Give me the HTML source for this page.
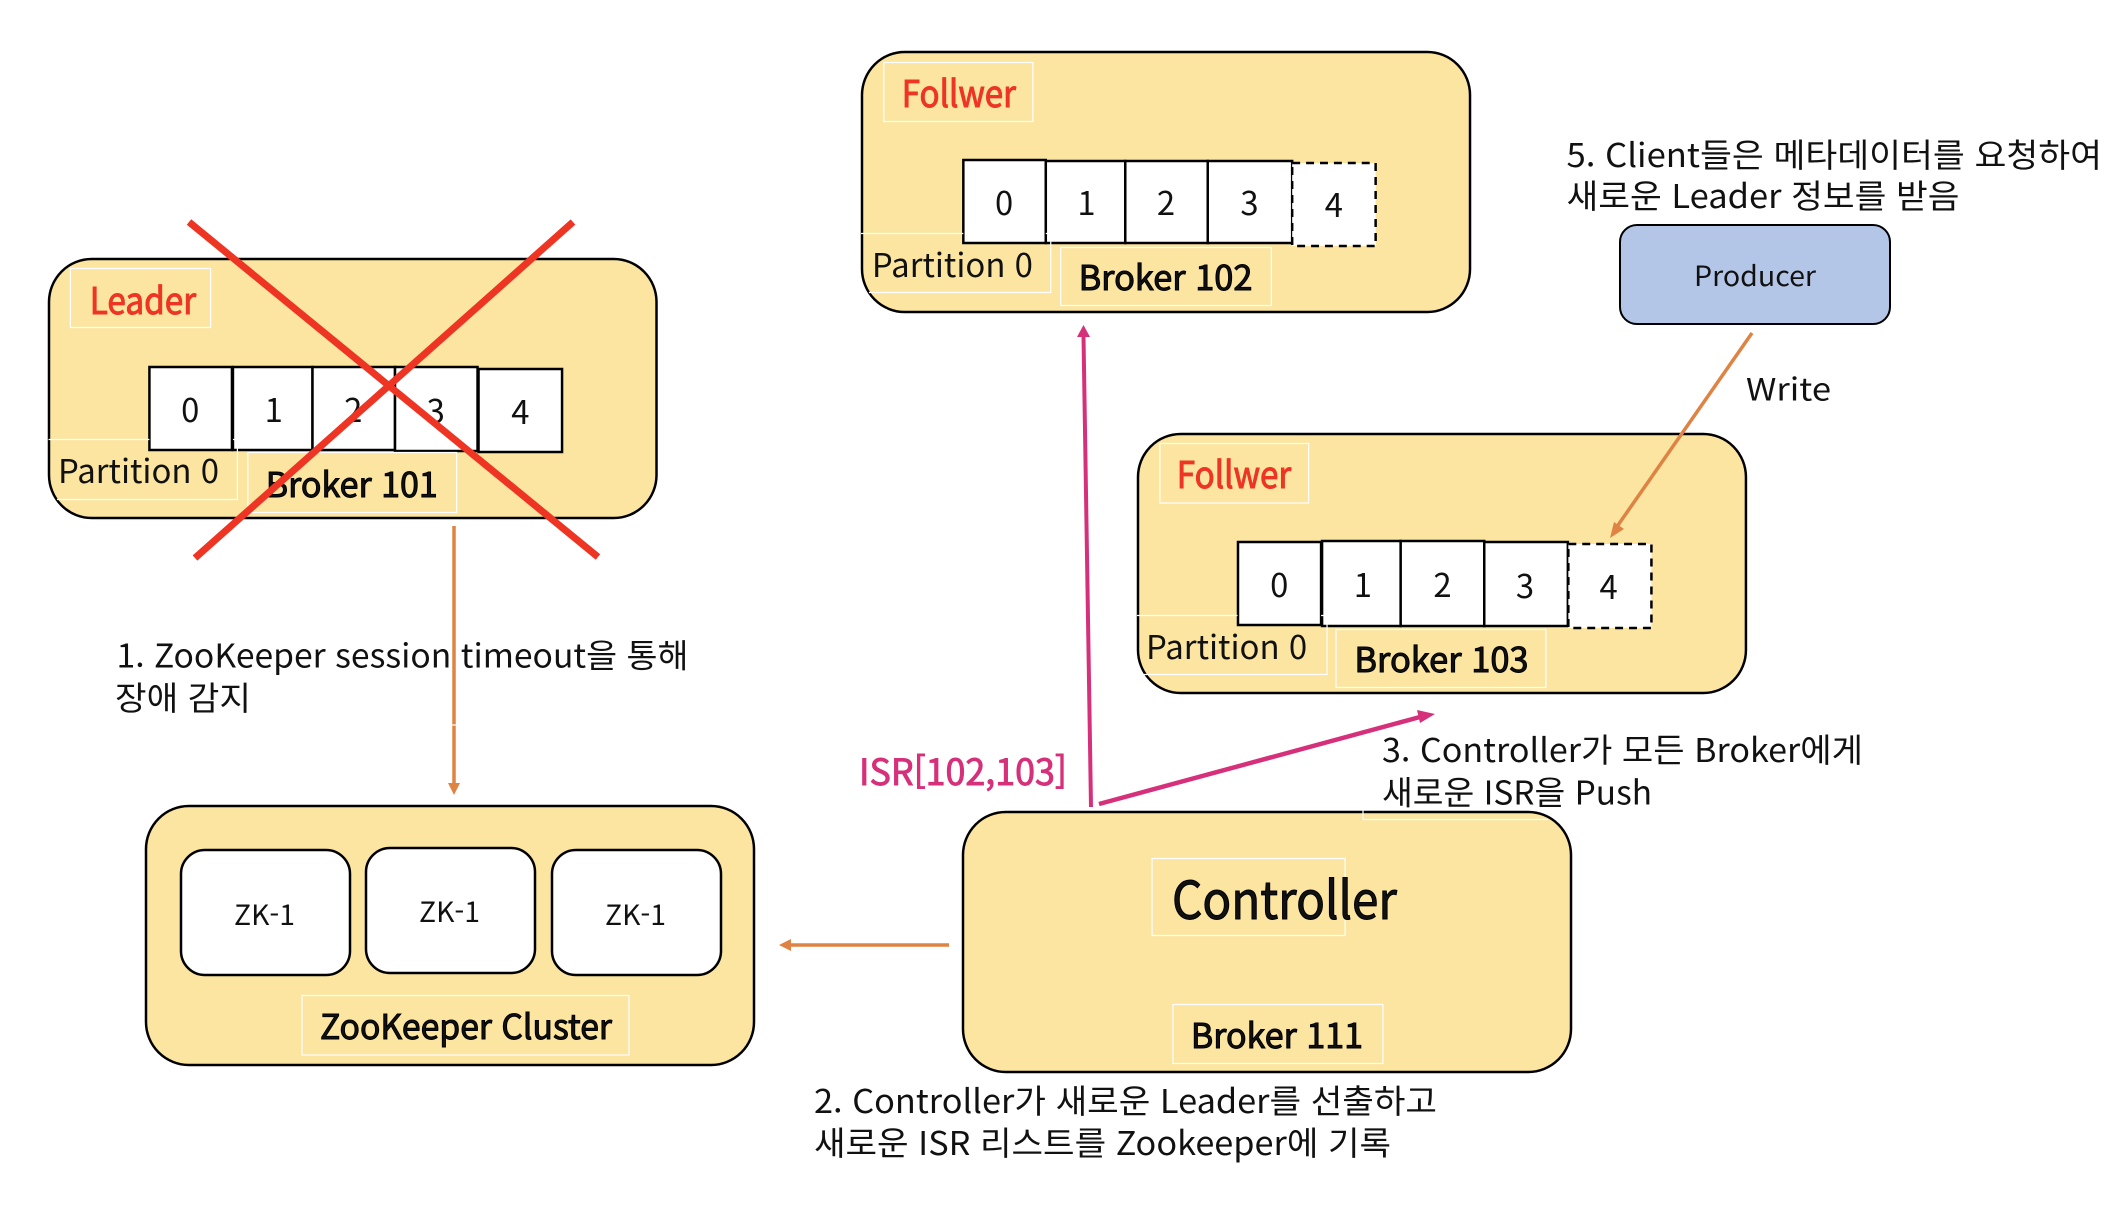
<!DOCTYPE html>
<html lang="ko"><head><meta charset="utf-8"><title>Kafka Controller</title>
<style>
html,body{margin:0;padding:0;background:#fff}
svg{display:block}
text{font-family:"Liberation Sans","Noto Sans CJK KR",sans-serif}
.k{font-family:"Noto Sans CJK KR","Liberation Sans",sans-serif;fill:#111}
.box{fill:#FBE5A1;stroke:#000;stroke-width:2.5}
.cell{fill:#fff;stroke:#000;stroke-width:2.5}
.dash{fill:#fff;stroke:#000;stroke-width:2.5;stroke-dasharray:8 6}
.wl{fill:none;stroke:#fff;stroke-width:1.2}
.r{fill:#EE3524;stroke:#EE3524;stroke-width:1}
.b{stroke:#000;stroke-width:1}
.d{text-anchor:middle;font-size:33px}
</style></head><body>
<svg width="2114" height="1214" viewBox="0 0 2114 1214" xmlns="http://www.w3.org/2000/svg">
<rect width="2114" height="1214" fill="#fff"/>

<!-- Broker 101 -->
<g transform="translate(49 0) scale(.9943 1) translate(-49 0)">
<rect class="box" x="49" y="259" width="611" height="259" rx="43"/>
<rect class="wl" x="70.5" y="268.5" width="141" height="59"/>
<text class="k r" x="90" y="314" font-size="37" textLength="107" lengthAdjust="spacingAndGlyphs">Leader</text>
<rect class="cell" x="150" y="367" width="83" height="83"/>
<rect class="cell" x="234" y="367" width="80" height="83"/>
<rect class="cell" x="314" y="367" width="83" height="83"/>
<rect class="cell" x="397" y="367" width="83" height="84"/>
<rect class="cell" x="481" y="369" width="84" height="83"/>
<text class="k d" x="191" y="422">0</text><text class="k d" x="275" y="422">1</text><text class="k d" x="355" y="422">2</text><text class="k d" x="438" y="423">3</text><text class="k d" x="523" y="424">4</text>
<path class="wl" d="M48.5 439.5H150M234 439.5H238.5V499.5H57"/>
<text class="k" x="58" y="483" font-size="33" textLength="162" lengthAdjust="spacingAndGlyphs">Partition 0</text>
<rect class="wl" x="249" y="452.5" width="210" height="60"/>
<text class="k b" x="267" y="497" font-size="34" textLength="173" lengthAdjust="spacingAndGlyphs">Broker 101</text>
</g>
<line x1="189" y1="222" x2="598" y2="557" stroke="#EE3524" stroke-width="7"/>
<line x1="573" y1="222" x2="195" y2="558" stroke="#EE3524" stroke-width="7"/>

<!-- Broker 102 -->
<g transform="translate(862 0) scale(.9935 1) translate(-862 0)">
<rect class="box" x="862" y="52" width="612" height="260" rx="43"/>
<rect class="wl" x="884" y="62.5" width="150" height="59"/>
<text class="k r" x="902" y="107" font-size="37" textLength="115" lengthAdjust="spacingAndGlyphs">Follwer</text>
<rect class="cell" x="964" y="160" width="83" height="83"/>
<rect class="cell" x="1047" y="161" width="80" height="82"/>
<rect class="cell" x="1127" y="161" width="83" height="82"/>
<rect class="cell" x="1210" y="161" width="85" height="82"/>
<rect class="dash" x="1295" y="163" width="84" height="83"/>
<text class="k d" x="1005" y="215">0</text><text class="k d" x="1088" y="215">1</text><text class="k d" x="1168" y="215">2</text><text class="k d" x="1252" y="215">3</text><text class="k d" x="1337" y="217">4</text>
<path class="wl" d="M861 233.5H964M1047 233.5H1052V292.5H869"/>
<text class="k" x="872" y="277" font-size="33" textLength="162" lengthAdjust="spacingAndGlyphs">Partition 0</text>
<rect class="wl" x="1062" y="247.5" width="212" height="58"/>
<text class="k b" x="1080" y="290" font-size="34" textLength="175" lengthAdjust="spacingAndGlyphs">Broker 102</text>
</g>

<!-- Broker 103 -->
<g transform="translate(1138 0) scale(.995 1) translate(-1138 0)">
<rect class="box" x="1138" y="434" width="611" height="259" rx="43"/>
<rect class="wl" x="1160" y="443.5" width="149.5" height="59.5"/>
<text class="k r" x="1177" y="488" font-size="37" textLength="115" lengthAdjust="spacingAndGlyphs">Follwer</text>
<rect class="cell" x="1238.5" y="542" width="83.5" height="83"/>
<rect class="cell" x="1323" y="541" width="79" height="85"/>
<rect class="cell" x="1402" y="541" width="84" height="85"/>
<rect class="cell" x="1486" y="542" width="84" height="84"/>
<rect class="dash" x="1570.5" y="544" width="83.5" height="84"/>
<text class="k d" x="1280" y="597">0</text><text class="k d" x="1364" y="597">1</text><text class="k d" x="1444" y="597">2</text><text class="k d" x="1527" y="598">3</text><text class="k d" x="1611" y="599">4</text>
<path class="wl" d="M1137 615.5H1238M1322 615.5H1328V674.5H1144"/>
<text class="k" x="1146" y="659" font-size="33" textLength="162" lengthAdjust="spacingAndGlyphs">Partition 0</text>
<rect class="wl" x="1337" y="629.5" width="211" height="58"/>
<text class="k b" x="1355.5" y="672" font-size="34" textLength="175" lengthAdjust="spacingAndGlyphs">Broker 103</text>
</g>

<!-- ZooKeeper Cluster -->
<rect class="box" x="146" y="806" width="608" height="259" rx="43"/>
<rect x="181" y="850" width="169" height="125" rx="24" fill="#fff" stroke="#000" stroke-width="2.5"/>
<rect x="366" y="848" width="169" height="125" rx="24" fill="#fff" stroke="#000" stroke-width="2.5"/>
<rect x="552" y="850" width="169" height="125" rx="24" fill="#fff" stroke="#000" stroke-width="2.5"/>
<text class="k" x="234" y="925" font-size="28" textLength="61" lengthAdjust="spacingAndGlyphs">ZK-1</text>
<text class="k" x="419" y="922" font-size="28" textLength="61" lengthAdjust="spacingAndGlyphs">ZK-1</text>
<text class="k" x="605" y="925" font-size="28" textLength="61" lengthAdjust="spacingAndGlyphs">ZK-1</text>
<rect class="wl" x="302" y="995.5" width="327" height="59.5"/>
<text class="k b" x="320" y="1039" font-size="34" textLength="292" lengthAdjust="spacingAndGlyphs">ZooKeeper Cluster</text>

<!-- Controller -->
<g transform="translate(963 0) scale(.9951 1) translate(-964 0)">
<rect class="box" x="964" y="812" width="611" height="260" rx="43"/>
<rect class="wl" x="1154" y="858.5" width="194" height="77"/>
<text class="k b" x="1174" y="919" font-size="52" textLength="226" lengthAdjust="spacingAndGlyphs">Controller</text>
<rect class="wl" x="1175" y="1004.5" width="211" height="59"/>
<text class="k b" x="1193" y="1048" font-size="34" textLength="173" lengthAdjust="spacingAndGlyphs">Broker 111</text>
</g>
<path class="wl" d="M1363 729V819.5H1548"/>

<!-- Producer -->
<rect x="1620" y="225" width="270" height="99" rx="17" fill="#B4C6E7" stroke="#000" stroke-width="2"/>
<text class="k" x="1694" y="286" font-size="28" textLength="122" lengthAdjust="spacingAndGlyphs">Producer</text>

<!-- Arrows -->
<g stroke="#DF8344" stroke-width="3.5" fill="none">
<line x1="454" y1="526" x2="454" y2="785"/>
<line x1="949" y1="945" x2="790" y2="945"/>
<line x1="1752" y1="333" x2="1616" y2="528"/>
</g>
<polygon points="448,783 460,783 454,795" fill="#DF8344"/>
<polygon points="791,939 791,951 779,945" fill="#DF8344"/>
<polygon points="1610,538 1614,522 1624,529" fill="#DF8344"/>
<g stroke="#D6307B" fill="none">
<line x1="1091" y1="807" x2="1083.5" y2="336" stroke-width="4"/>
<line x1="1099" y1="804" x2="1420" y2="717" stroke-width="4.5"/>
</g>
<polygon points="1077,337 1090,337 1083.5,325" fill="#D6307B"/>
<polygon points="1417,710 1420,723 1435,714" fill="#D6307B"/>
<line x1="446" y1="725" x2="462" y2="725" stroke="#fff" stroke-width="1.2"/>

<!-- Labels -->
<text class="k" x="116.5" y="667.5" font-size="33" textLength="572" lengthAdjust="spacingAndGlyphs">1. ZooKeeper session timeout을 통해</text>
<text class="k" x="115" y="710" font-size="33" textLength="136" lengthAdjust="spacingAndGlyphs">장애 감지</text>
<text class="k" x="814" y="1113" font-size="33" textLength="623" lengthAdjust="spacingAndGlyphs">2. Controller가 새로운 Leader를 선출하고</text>
<text class="k" x="814" y="1155" font-size="33" textLength="577" lengthAdjust="spacingAndGlyphs">새로운 ISR 리스트를 Zookeeper에 기록</text>
<text class="k" x="1382" y="762" font-size="33" textLength="481" lengthAdjust="spacingAndGlyphs">3. Controller가 모든 Broker에게</text>
<text class="k" x="1382" y="804.5" font-size="33" textLength="270" lengthAdjust="spacingAndGlyphs">새로운 ISR을 Push</text>
<text class="k" x="1566.5" y="167" font-size="33" textLength="535.5" lengthAdjust="spacingAndGlyphs">5. Client들은 메타데이터를 요청하여</text>
<text class="k" x="1566.5" y="208" font-size="33" textLength="393" lengthAdjust="spacingAndGlyphs">새로운 Leader 정보를 받음</text>
<text class="k" x="1746" y="400.5" font-size="31" textLength="85" lengthAdjust="spacingAndGlyphs">Write</text>
<text class="k" x="859" y="785" font-size="36" textLength="208" lengthAdjust="spacingAndGlyphs" style="fill:#D6307B;stroke:#D6307B;stroke-width:.9">ISR[102,103]</text>
</svg>
</body></html>
